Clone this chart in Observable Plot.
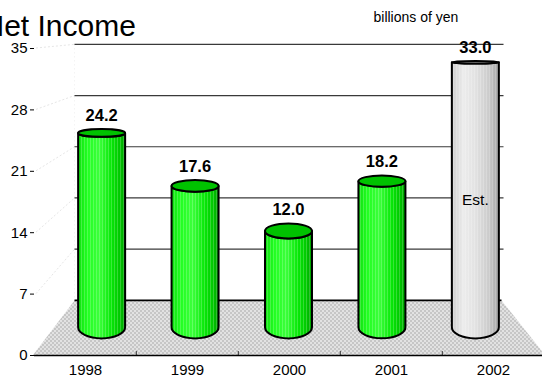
<!DOCTYPE html>
<html><head><meta charset="utf-8">
<script src="https://cdn.jsdelivr.net/npm/d3@7"></script>
<script src="https://cdn.jsdelivr.net/npm/@observablehq/plot@0.6"></script>
<style>html,body{margin:0;padding:0;background:#fff;overflow:hidden}</style>
</head><body><div id="chart"></div><script>
// ---- data ----
const years = ["1998", "1999", "2000", "2001", "2002"];
const netIncome = [24.2, 17.6, 12.0, 18.2, 33.0];
const isEstimate = [false, false, false, false, true];
const barNotes = ["", "", "", "", "Est."];
const yTicks = [0, 7, 14, 21, 28, 35];
const titleText = "Net Income";
const unitText = "billions of yen";

// ---- styling / perspective constants ----
const FONT = "'Liberation Sans', Arial, Helvetica, sans-serif";
const VX = 283, VY = 26;        // vanishing point
const S_BACK = 0.834;           // scale of back wall
const S_MID = 0.916;            // scale of cylinder axis plane
const DS = 0.0335;              // cylinder depth extent
const RX = 23.5;                // cylinder radius (px)

function scene(index, scales) {
  const X = scales.x, Y = scales.y;
  const bw = X.bandwidth ? X.bandwidth() : 102.4;
  const [x0, x1] = X.range();
  const proj = (xf, yf, s) => [VX + s * (xf - VX), VY + s * (yf - VY)];
  const g = d3.create("svg:g");
  const defs = g.append("defs");

  // floor dither pattern
  const fp = defs.append("pattern").attr("id", "floorPat").attr("patternUnits", "userSpaceOnUse")
    .attr("width", 4).attr("height", 4);
  fp.append("rect").attr("width", 4).attr("height", 4).attr("fill", "#c6c6c6");
  fp.append("rect").attr("x", 0).attr("y", 0).attr("width", 2).attr("height", 2).attr("fill", "#e2e2e2");
  fp.append("rect").attr("x", 2).attr("y", 2).attr("width", 2).attr("height", 2).attr("fill", "#e2e2e2");

  // stripes
  const sp = defs.append("pattern").attr("id", "stripes").attr("patternUnits", "userSpaceOnUse")
    .attr("width", 3).attr("height", 10);
  sp.append("rect").attr("x", 0).attr("width", 1).attr("height", 10).attr("fill", "#ffffff").attr("opacity", 0.2);

  const grad = (id, stops) => {
    const lg = defs.append("linearGradient").attr("id", id).attr("x1", 0).attr("x2", 1).attr("y1", 0).attr("y2", 0);
    for (const [o, c] of stops) lg.append("stop").attr("offset", o).attr("stop-color", c);
  };
  grad("gGreen", [[0, "#0fe00f"], [0.2, "#22ff22"], [0.45, "#3cff3c"], [0.7, "#08e808"], [0.88, "#00c800"], [1, "#00a000"]]);
  grad("gGray", [[0, "#cfcfcf"], [0.25, "#ececec"], [0.5, "#e2e2e2"], [0.78, "#cccccc"], [1, "#a4a4a4"]]);

  // floor
  const yf0 = Y(0);
  const bl = proj(x0, yf0, S_BACK), br = proj(x1, yf0, S_BACK);
  g.append("path").attr("d", `M${x0},${yf0}L${bl[0]},${bl[1]}L${br[0]},${br[1]}L${x1},${yf0}Z`)
    .attr("fill", "url(#floorPat)");

  // faint left wall lines
  for (const v of yTicks) {
    const a = [x0 + 3, Y(v)], b = proj(x0, Y(v), S_BACK);
    if (v === 0) continue;
    g.append("line").attr("x1", a[0]).attr("y1", a[1]).attr("x2", b[0]).attr("y2", b[1])
      .attr("stroke", "#e6e6e6").attr("stroke-dasharray", "2,2");
  }
  {
    const a = proj(x0, Y(35), S_BACK), b = proj(x0, Y(0), S_BACK);
    g.append("line").attr("x1", a[0]).attr("y1", a[1]).attr("x2", b[0]).attr("y2", b[1])
      .attr("stroke", "#eeeeee").attr("stroke-dasharray", "1,3");
  }

  // back wall gridlines
  for (const v of yTicks) {
    const a = proj(x0, Y(v), S_BACK), b = proj(x1, Y(v), S_BACK);
    g.append("line").attr("x1", a[0]).attr("y1", a[1]).attr("x2", b[0] + (v === 0 ? 0 : 2)).attr("y2", b[1])
      .attr("stroke", v === 0 ? "#000" : "#3a3a3a").attr("stroke-width", v === 0 ? 1.6 : 1.2);
  }

  // cylinders
  years.forEach((yr, i) => {
    const xc = X(yr) + bw / 2;
    const v = netIncome[i];
    const [cx, yb] = proj(xc, Y(0), S_MID);
    const [, yt] = proj(xc, Y(v), S_MID);
    const ryb = DS * (Y(0) - VY), ryt = DS * (Y(v) - VY);
    const body = `M${cx - RX},${yt}L${cx - RX},${yb}A${RX},${ryb} 0 0 0 ${cx + RX},${yb}L${cx + RX},${yt}A${RX},${ryt} 0 0 1 ${cx - RX},${yt}Z`;
    const est = isEstimate[i];
    g.append("path").attr("d", body).attr("fill", est ? "url(#gGray)" : "url(#gGreen)");
    g.append("path").attr("d", body).attr("fill", "url(#stripes)");
    g.append("path").attr("d", body).attr("fill", "none").attr("stroke", "#000").attr("stroke-width", 2)
      .attr("stroke-linejoin", "round");
    g.append("ellipse").attr("cx", cx).attr("cy", yt).attr("rx", RX).attr("ry", Math.max(ryt, 1))
      .attr("fill", est ? "#c4c4c4" : "#00c200").attr("stroke", "#000").attr("stroke-width", 2);
    // value label
    g.append("text").attr("x", cx).attr("y", yt - ryt - 8).attr("text-anchor", "middle")
      .attr("font-weight", "bold").attr("font-size", 16.5).attr("fill", "#000")
      .text(d3.format(".1f")(v));
    if (barNotes[i]) {
      g.append("text").attr("x", cx).attr("y", (yt + yb) / 2 + 10).attr("text-anchor", "middle")
        .attr("font-size", 15.5).attr("fill", "#000").text(barNotes[i]);
    }
  });
  return g.node();
}

const chart = Plot.plot({
  width: 542, height: 377,
  marginLeft: 34, marginRight: 0, marginTop: 0, marginBottom: 22,
  style: {fontFamily: FONT, fontSize: "15px", color: "black", background: "white", overflow: "visible"},
  x: {type: "band", domain: years, range: [33, 545], padding: 0, tickSize: 0, tickPadding: 9, label: null},
  y: {domain: [0, 35], range: [355, 48], ticks: yTicks, tickSize: 4, tickPadding: 3, label: null},
  marks: [
    scene,
    Plot.ruleX(years.slice(1), {dx: -51.2, y1: 0, y2: 0.45, stroke: "#333"}),
    Plot.ruleY([0], {stroke: "black", strokeWidth: 1.5}),
    Plot.text([titleText], {frameAnchor: "top-left", dx: -52, dy: 35, textAnchor: "start", lineAnchor: "bottom", fontSize: 30}),
    Plot.text([unitText], {frameAnchor: "top-left", dx: 339, dy: 21, textAnchor: "start", lineAnchor: "bottom", fontSize: 14})
  ]
});
document.getElementById("chart").appendChild(chart);
</script></body></html>
